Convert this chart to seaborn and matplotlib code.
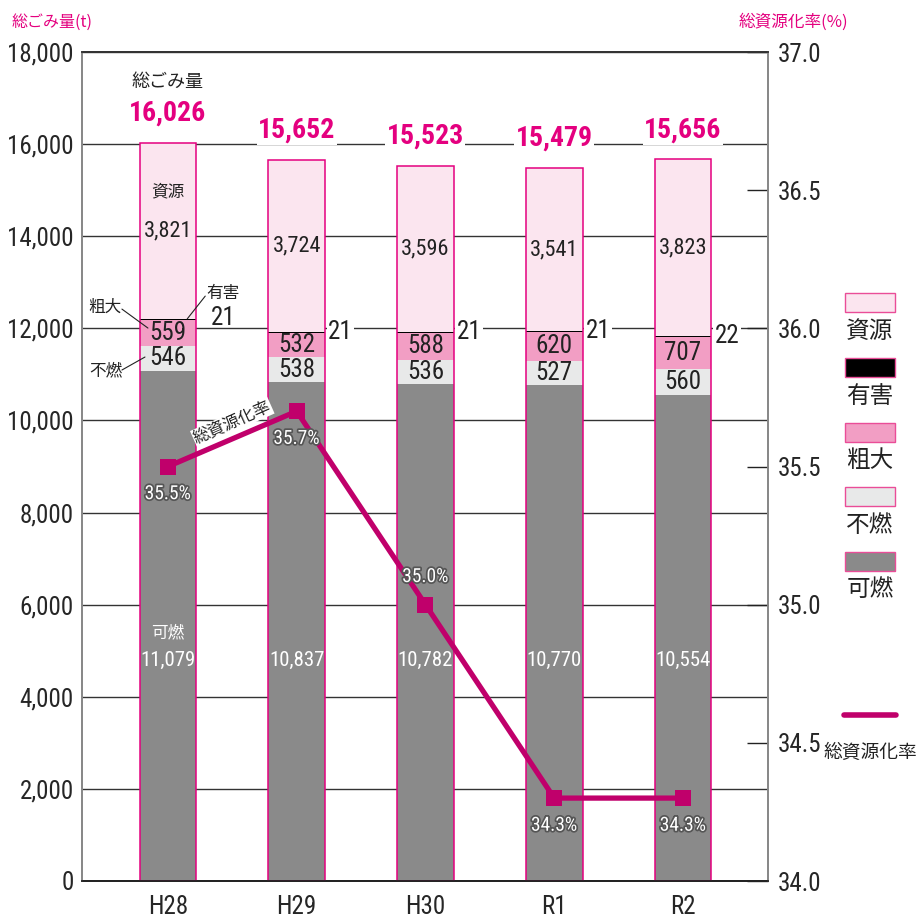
import matplotlib
matplotlib.use("Agg")
import matplotlib.pyplot as plt
import matplotlib.patheffects as pe
from matplotlib import font_manager
from matplotlib.patches import Rectangle
from matplotlib.lines import Line2D
import numpy as np
import seaborn as sns

years = ["H28", "H29", "H30", "R1", "R2"]
kanen = [11079, 10837, 10782, 10770, 10554]   # 可燃
funen = [546, 538, 536, 527, 560]             # 不燃
sodai = [559, 532, 588, 620, 707]             # 粗大
yugai = [21, 21, 21, 21, 22]                  # 有害
shigen = [3821, 3724, 3596, 3541, 3823]       # 資源
totals = [16026, 15652, 15523, 15479, 15656]  # 総ごみ量
rate = [35.5, 35.7, 35.0, 34.3, 34.3]         # 総資源化率

sns.set_style("white")
names = {f.name for f in font_manager.fontManager.ttflist}
narrow = None
for cand in ["Liberation Sans Narrow", "Roboto Condensed", "Open Sans Condensed"]:
    if cand in names:
        narrow = cand
        break
JP = "Noto Sans CJK JP"
if narrow:
    NUM = [narrow, JP]
    s_num = 18
else:
    NUM = [JP, "DejaVu Sans"]
    s_num = 14
plt.rcParams["font.family"] = [JP, "DejaVu Sans"]

MAG = "#e4007f"
LINE = "#c0006b"
colors = {"資源": "#fbe5ef", "有害": "#000000", "粗大": "#f29ec4",
          "不燃": "#e8e9e9", "可燃": "#8a8a8a"}

fig = plt.figure(figsize=(9.2, 9.19), dpi=100)
ax = fig.add_axes([82 / 920, 38 / 919, 686 / 920, 829 / 919])

x = np.arange(len(years))
k = np.array(kanen)
c1 = k + np.array(funen)
c2 = c1 + np.array(sodai)
c3 = c2 + np.array(yugai)
c4 = c3 + np.array(shigen)

bw = 0.44
for vals, key in [(c4, "資源"), (c3, "有害"), (c2, "粗大"), (c1, "不燃"), (k, "可燃")]:
    sns.barplot(x=years, y=vals, color=colors[key], saturation=1, width=bw,
                linewidth=0, ax=ax, zorder=2)
# outline
sns.barplot(x=years, y=c4, fill=False, edgecolor=MAG, linewidth=1.1, width=bw,
            ax=ax, zorder=3)

ax.set_xlim(-0.667, 4.66)
ax.set_ylim(0, 18000)
ax.set_yticks(range(0, 18001, 2000))
ax.set_yticklabels([f"{v:,}" for v in range(0, 18001, 2000)], family=NUM, fontsize=s_num)
ax.set_axisbelow(True)
ax.grid(axis="y", color="#333333", linewidth=1)
ax.tick_params(axis="y", length=0, pad=6)
ax.set_xticks(x)
ax.set_xticklabels(years, family=NUM, fontsize=s_num)
ax.set_xticks([0.5, 1.5, 2.5, 3.5], minor=True)
ax.tick_params(axis="x", which="major", length=0, pad=10)
ax.tick_params(axis="x", which="minor", direction="in", length=20, width=1, color="#222222")
ax.set_xlabel("")
ax.set_ylabel("")
for side, col in [("left", "#888888"), ("right", "#888888"), ("top", "#333333"), ("bottom", "#222222")]:
    ax.spines[side].set_color(col)
    ax.spines[side].set_linewidth(1.3)

# labels on bars
for i in range(5):
    ax.text(i, totals[i] + 650, f"{totals[i]:,}", ha="center", va="center", color=MAG,
            family=NUM, fontsize=s_num + 2, fontweight="bold", zorder=5,
            bbox=dict(facecolor="white", edgecolor="none", pad=1))
    ax.text(i, (c3[i] + c4[i]) / 2, f"{shigen[i]:,}", ha="center", va="center",
            family=NUM, fontsize=s_num - 2, color="#222222", zorder=5)
    ax.text(i, (c1[i] + c2[i]) / 2, f"{sodai[i]:,}", ha="center", va="center",
            family=NUM, fontsize=s_num, color="#222222", zorder=5)
    ax.text(i, (k[i] + c1[i]) / 2, f"{funen[i]:,}", ha="center", va="center",
            family=NUM, fontsize=s_num, color="#222222", zorder=5)
    ax.text(i, 4800, f"{kanen[i]:,}", ha="center", va="center",
            family=NUM, fontsize=s_num - 3, color="white", zorder=5)
    if i > 0:
        ax.text(i + 0.34, c3[i], f"{yugai[i]}", ha="center", va="center",
                family=NUM, fontsize=s_num, color="#222222", zorder=5,
                bbox=dict(facecolor="white", edgecolor="none", pad=1))

ax.text(0, 17350, "総ごみ量", ha="center", va="center", fontsize=13, color="#222222")
ax.text(0, (c3[0] + c4[0]) / 2 + 850, "資源", ha="center", va="center", fontsize=12, color="#222222", zorder=5)
ax.text(0, 5400, "可燃", ha="center", va="center", fontsize=12, color="white", zorder=5)
ax.text(0.43, 12766, "有害", ha="center", va="center", fontsize=12, color="#222222")
ax.text(0.43, 12223, f"{yugai[0]}", ha="center", va="center", family=NUM, fontsize=s_num, color="#222222")
ax.plot([0.15, 0.29], [c3[0], 12700], color="#222222", lw=0.8, zorder=5)
ax.text(-0.49, 12462, "粗大", ha="center", va="center", fontsize=12, color="#222222")
ax.plot([-0.357, -0.155], [12418, 12006], color="#222222", lw=0.8, zorder=5)
ax.text(-0.48, 11073, "不燃", ha="center", va="center", fontsize=12, color="#222222")
ax.plot([-0.357, -0.178], [11095, 11377], color="#222222", lw=0.8, zorder=5)

# rate line
ax2 = ax.twinx()
sns.lineplot(x=x, y=rate, ax=ax2, color=LINE, linewidth=3.8, marker="s",
             markersize=11.5, markeredgewidth=0, zorder=6)
ax2.set_ylim(34, 37)
rticks = np.arange(34, 37.01, 0.5)
ax2.set_yticks(rticks)
ax2.set_yticklabels([f"{v:.1f}" for v in rticks], family=NUM, fontsize=s_num)
ax2.tick_params(axis="y", direction="in", length=15, width=1, color="#222222", pad=7)
ax2.set_ylabel("")
for side, col in [("left", "#888888"), ("right", "#888888"), ("top", "#333333"), ("bottom", "#222222")]:
    ax2.spines[side].set_color(col)
    ax2.spines[side].set_linewidth(1.3)

for i in range(5):
    off = 0.1 if i == 2 else -0.1
    ax2.text(i, rate[i] + off, f"{rate[i]:.1f}%", ha="center", va="center",
             family=NUM, fontsize=s_num - 4, color="white", zorder=7,
             path_effects=[pe.withStroke(linewidth=2.5, foreground="#555555")])
ax2.text(0.5, 35.66, "総資源化率", rotation=24, rotation_mode="anchor", ha="center",
         va="center", fontsize=12, color="#222222", zorder=7,
         bbox=dict(facecolor="white", edgecolor="none", pad=0.5))

# axis titles
fig.text(12 / 920, 1 - 22 / 919, "総ごみ量(t)", ha="left", va="center", fontsize=11.5, color=MAG)
fig.text(793 / 920, 1 - 22 / 919, "総資源化率(%)", ha="center", va="center", fontsize=12, color=MAG)

# legend
for j, key in enumerate(["資源", "有害", "粗大", "不燃", "可燃"]):
    yc = 303 + j * 64.5
    fig.patches.append(Rectangle((845 / 920, 1 - (yc + 9.5) / 919), 50 / 920, 19 / 919,
                                 transform=fig.transFigure, facecolor=colors[key],
                                 edgecolor="#ea4d98", linewidth=1))
    fig.text(870 / 920, 1 - (yc + 29) / 919, key, ha="center", va="center",
             fontsize=17, color="#222222")
fig.lines.append(Line2D([844 / 920, 896 / 920], [1 - 715 / 919, 1 - 715 / 919],
                        transform=fig.transFigure, color=LINE, linewidth=4,
                        solid_capstyle="round"))
fig.text(870 / 920, 1 - 752 / 919, "総資源化率", ha="center", va="center",
         fontsize=13.5, color="#222222")

fig.savefig("out.png", dpi=100)
